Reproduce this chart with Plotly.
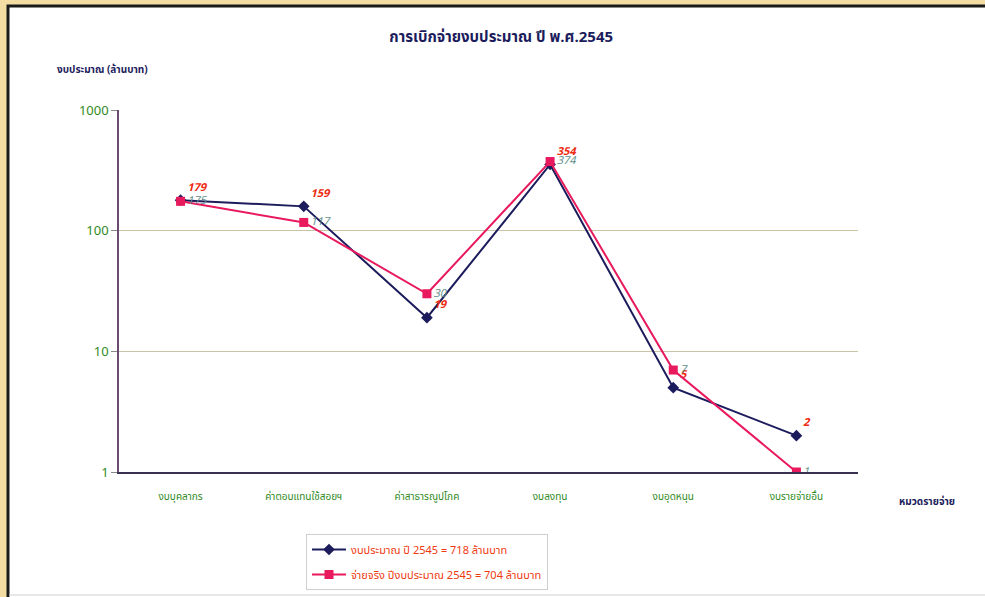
import plotly.graph_objects as go

categories = ["งบบุคลากร", "ค่าตอบแทนใช้สอยฯ", "ค่าสาธารณูปโภค", "งบลงทุน", "งบอุดหนุน", "งบรายจ่ายอื่น"]
budget = [179, 159, 19, 354, 5, 2]
actual = [175, 117, 30, 374, 7, 1]
budget_name = "งบประมาณ ปี 2545 = 718 ล้านบาท"
actual_name = "จ่ายจริง ปีงบประมาณ 2545 = 704 ล้านบาท"
y_ticks = [1, 10, 100, 1000]

W, H = 985, 597
L, R, T, B = 119, 858, 110, 472

def px(x):
    return (x - L) / (R - L)

def py(y):
    return (B - y) / (B - T)

FONT = "Noto Sans Thai, Tahoma, Arial, sans-serif"
NAVY = "#1c1c5c"
PINK = "#e8195c"

fig = go.Figure()
fig.add_trace(go.Scatter(
    x=categories, y=budget, name=budget_name, mode="lines+markers+text", legendgroup="b",
    line=dict(color=NAVY, width=2), marker=dict(symbol="diamond", size=9, color=NAVY),
    text=[str(v) for v in budget], textposition="top right",
    textfont=dict(color="#ee2a10", size=11, family=FONT, style="italic", weight="bold"),
))
fig.add_trace(go.Scatter(
    x=categories, y=actual, name=actual_name, mode="lines+markers+text", legendgroup="a",
    line=dict(color=PINK, width=2), marker=dict(symbol="square", size=9, color=PINK),
    text=[str(v) for v in actual], textposition="middle right",
    textfont=dict(color="#5f8f8a", size=11, family=FONT, style="italic"),
))

shapes = [
    dict(type="rect", xref="paper", yref="paper", x0=px(0), x1=px(W), y0=py(H + 5), y1=py(0),
         fillcolor="#f3dda2", line=dict(width=0), layer="below"),
    dict(type="rect", xref="paper", yref="paper", x0=px(8), x1=px(W + 10), y0=py(H + 10), y1=py(6),
         fillcolor="white", line=dict(color="#1a1a1a", width=3), layer="below"),
    dict(type="line", xref="paper", yref="paper", x0=px(9), x1=px(W), y0=py(595), y1=py(595),
         line=dict(color="#d0d0d0", width=1), layer="below"),
]

fig.update_layout(
    width=W, height=H,
    margin=dict(l=L, r=W - R, t=T, b=H - B, autoexpand=False),
    paper_bgcolor="white", plot_bgcolor="rgba(0,0,0,0)",
    font=dict(family=FONT),
    shapes=shapes,
    showlegend=True,
    legend=dict(x=px(306), y=py(534), xanchor="left", yanchor="top",
                bgcolor="white", bordercolor="#cfcfcf", borderwidth=1,
                font=dict(color="#ee3a10", size=11, family=FONT),
                tracegroupgap=6, itemwidth=34),
    title=dict(text="<b>การเบิกจ่ายงบประมาณ ปี พ.ศ.2545</b>", x=px(495), xanchor="center",
               y=1 - 37 / H, yanchor="middle", font=dict(color=NAVY, size=15, family=FONT)),
    annotations=[
        dict(text="<b>งบประมาณ (ล้านบาท)</b>", xref="paper", yref="paper", x=px(55), y=py(70),
             xanchor="left", yanchor="middle", showarrow=False, font=dict(color=NAVY, size=10)),
        dict(text="<b>หมวดรายจ่าย</b>", xref="paper", yref="paper", x=px(927), y=py(502),
             xanchor="center", yanchor="middle", showarrow=False, font=dict(color=NAVY, size=10)),
    ],
)
fig.update_xaxes(type="category", range=[-0.5, len(categories) - 0.5],
                 showgrid=False, showline=True, linecolor="#3a3050", linewidth=2,
                 ticks="", tickfont=dict(color="#2f8a1e", size=10), ticklabelstandoff=14)
fig.update_yaxes(type="log", range=[0, 3], tickvals=y_ticks, ticktext=[str(v) for v in y_ticks],
                 showgrid=True, gridcolor="#c9c4a8", gridwidth=1,
                 showline=True, linecolor="#6a4a70", linewidth=1.5,
                 ticks="outside", ticklen=6, tickcolor="#888",
                 tickfont=dict(color="#2f8a1e", size=13), zeroline=False)

fig.write_html("out.html")
